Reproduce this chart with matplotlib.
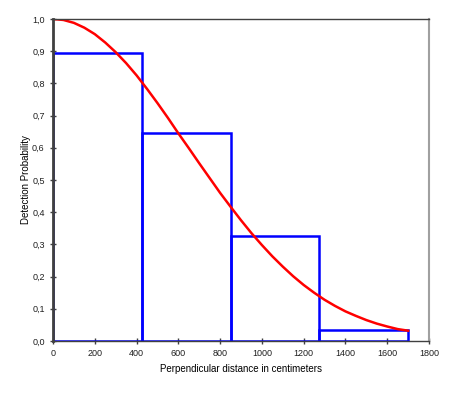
import numpy as np
import matplotlib
matplotlib.use("Agg")
import matplotlib.pyplot as plt

# histogram of detections (bin edges and scaled heights)
bin_edges = [0, 425, 850, 1275, 1700]
bin_heights = [0.895, 0.645, 0.325, 0.035]

# fitted detection function
curve_x = [0, 50, 100, 150, 200, 250, 300, 350, 400, 450, 500, 550, 600,
           650, 700, 750, 800, 850, 900, 950, 1000, 1050, 1100, 1150, 1200,
           1250, 1300, 1350, 1400, 1450, 1500, 1550, 1600, 1650, 1700]
curve_y = [1.000, 0.997, 0.988, 0.973, 0.953, 0.927, 0.897, 0.863, 0.825,
           0.783, 0.739, 0.693, 0.645, 0.599, 0.552, 0.506, 0.460, 0.417,
           0.375, 0.335, 0.298, 0.263, 0.231, 0.201, 0.174, 0.150, 0.128,
           0.109, 0.092, 0.078, 0.065, 0.054, 0.045, 0.037, 0.032]

x_ticks = [0, 200, 400, 600, 800, 1000, 1200, 1400, 1600, 1800]
y_ticks = [0.0, 0.1, 0.2, 0.3, 0.4, 0.5, 0.6, 0.7, 0.8, 0.9, 1.0]

plt.rcParams["font.family"] = ["Liberation Sans", "DejaVu Sans"]

fig = plt.figure(figsize=(4.51, 3.93), dpi=100)
ax = fig.add_axes([53 / 451, 1 - 341 / 393, 376 / 451, 322 / 393])

widths = np.diff(bin_edges)
ax.bar(bin_edges[:-1], bin_heights, width=widths, align="edge",
       fill=False, edgecolor="#0000ff", linewidth=1.8, zorder=2)

ax.plot(curve_x, curve_y, color="#ff0000", linewidth=1.8, zorder=3)

ax.set_xlim(0, 1800)
ax.set_ylim(0, 1.0)
ax.set_xticks(x_ticks)
ax.set_yticks(y_ticks)
ax.set_xticklabels([str(t) for t in x_ticks])
ax.set_yticklabels([f"{t:.1f}".replace(".", ",") for t in y_ticks])
ax.tick_params(direction="inout", length=5, width=1, colors="#404040",
               labelsize=6.5, labelcolor="#202020",
               top=False, right=False)

for side in ["left", "bottom", "top"]:
    ax.spines[side].set_color("#404040")
    ax.spines[side].set_linewidth(1)
    ax.spines[side].set_zorder(4)
ax.spines["left"].set_linewidth(2)
ax.spines["right"].set_color("#a0a0a0")
ax.spines["right"].set_linewidth(1.5)

ax.set_xlabel("Perpendicular distance in centimeters", fontsize=7, labelpad=4)
ax.set_ylabel("Detection Probability", fontsize=7, labelpad=1)

fig.savefig("out.png", dpi=100)
